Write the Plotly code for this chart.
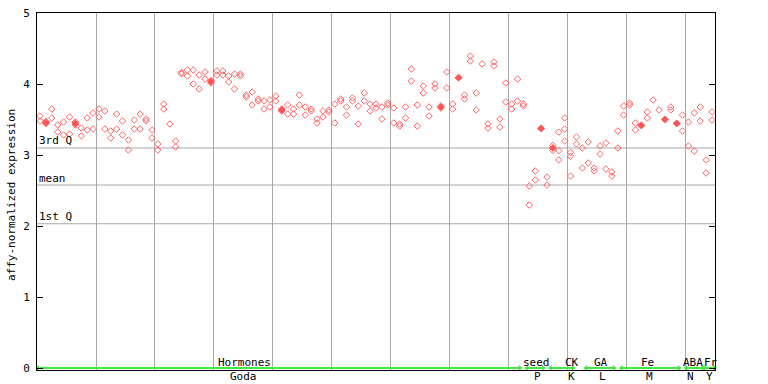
import plotly.graph_objects as go

# replicate values per sample (sample index = position along x)
rep_a = [3.549, 3.473, 3.648, 3.423, 3.465, 3.535, 3.465, 3.380, 3.521, 3.592,
         3.648, 3.620, 3.338, 3.577, 3.479, 3.211, 3.493, 3.577, 3.507, 3.352,
         3.155, 3.718, 3.437, 3.197, 4.163, 4.197, 4.197, 4.127, 4.169, 4.051,
         4.183, 4.183, 4.113, 4.141, 4.141, 3.845, 3.887, 3.789, 3.761, 3.775,
         3.831, 3.648, 3.704, 3.648, 3.845, 3.676, 3.648, 3.507, 3.620, 3.634,
         3.718, 3.789, 3.676, 3.803, 3.690, 3.873, 3.718, 3.718, 3.676, 3.732,
         3.662, 3.437, 3.676, 4.211, 3.704, 3.972, 3.676, 4.000, 3.690, 4.169,
         3.718, 4.089, 3.845, 4.394, 3.873, 4.282, 3.437, 4.310, 3.507, 4.014,
         3.718, 4.070, 3.718, 2.563, 2.775, 3.375, 2.690, 3.135, 3.321, 3.521,
         3.037, 3.254, 3.099, 3.183, 2.817, 3.127, 3.169, 2.761, 3.338, 3.690,
         3.732, 3.451, 3.417, 3.606, 3.775, 3.634, 3.501, 3.676, 3.445, 3.563,
         3.465, 3.592, 3.676, 2.930, 3.606]

rep_b = [3.479, 3.441, 3.521, 3.324, 3.282, 3.296, 3.423, 3.268, 3.352, 3.366,
         3.535, 3.366, 3.239, 3.366, 3.282, 3.070, 3.366, 3.366, 3.479, 3.239,
         3.070, 3.648, None, 3.113, 4.145, 4.113, 4.000, 3.930, 4.070, 4.014,
         4.127, 4.127, 4.028, 3.930, 4.113, 3.817, 3.704, 3.761, 3.648, 3.676,
         3.761, 3.620, 3.577, 3.577, 3.704, 3.563, 3.620, 3.451, 3.535, 3.606,
         3.451, 3.761, 3.563, 3.761, 3.437, 3.761, 3.620, 3.662, 3.507, 3.704,
         3.451, 3.408, 3.521, 4.042, 3.408, 3.873, 3.549, 3.944, 3.662, 3.944,
         3.648, None, 3.789, 4.324, 3.634, None, 3.380, 4.254, 3.394, 3.746,
         3.648, 3.761, 3.690, 2.296, 2.648, None, 2.577, 3.065, 3.061, 3.366,
         2.980, 3.155, 2.817, 2.887, 2.775, 3.014, 2.803, 2.704, 3.099, 3.563,
         3.704, 3.352, None, 3.521, None, None, None, 3.634, None, 3.338,
         3.127, 3.056, 3.479, 2.746, 3.493]

extra_idx = [88, 89, 90]
extra_val = [2.930, 3.197, 2.704]

# samples whose overlapping replicates render as a solid marker
solid_idx = [1, 6, 29, 41, 68, 71, 85, 87, 102, 106, 108]

# quartile reference lines
quart_names = ["3rd Q", "mean", "1st Q"]
quart_vals = [3.099, 2.577, 2.032]

# experiment groups (first and last sample index) and labels
group_names = ["Hormones", "seed", "CK", "GA", "Fe", "ABA", "Fr"]
group_subs = ["Goda", "P", "K", "L", "M", "N", "Y"]
group_first = [0, 83, 87, 93, 99, 110, 113]
group_last = [81, 85, 90, 97, 108, 112, 114]
name_pos = [34.7, 84.2, 90.2, 95.1, 103.1, 110.7, 113.9]
sub_pos = [34.6, 84.4, 90.2, 95.4, 103.4, 110.4, 113.6]

y_ticks = [0, 1, 2, 3, 4, 5]

FONT = "DejaVu Sans Mono"
RED = "#ff5555"
GREEN = "#40e840"
GRID = "#a8a8a8"

n = len(rep_a)
idx = list(range(n))

fig = go.Figure()

for vals in (rep_a, rep_b):
    fig.add_trace(go.Scatter(
        x=idx, y=vals, mode="markers",
        marker=dict(symbol="diamond-open", size=5, color=RED, line=dict(width=0.9, color=RED)),
        hoverinfo="skip", showlegend=False))
fig.add_trace(go.Scatter(
    x=extra_idx, y=extra_val, mode="markers",
    marker=dict(symbol="diamond-open", size=5, color=RED, line=dict(width=0.9, color=RED)),
    showlegend=False))

solid_y = []
for i in solid_idx:
    v = [w for w in (rep_a[i], rep_b[i]) if w is not None]
    solid_y.append(sum(v) / len(v))
fig.add_trace(go.Scatter(
    x=solid_idx, y=solid_y, mode="markers",
    marker=dict(symbol="diamond", size=6, color=RED, line=dict(width=0)),
    showlegend=False))

# green group segments with arrowheads
for f, l in zip(group_first, group_last):
    x0, x1 = f - 0.4, l + 0.4
    fig.add_trace(go.Scatter(
        x=[x0, x1], y=[0, 0], mode="lines+markers",
        line=dict(color=GREEN, width=2),
        marker=dict(symbol=["triangle-left", "triangle-right"], size=5, color=GREEN),
        cliponaxis=False, showlegend=False, hoverinfo="skip"))

shapes = []
for q in quart_vals:
    shapes.append(dict(type="line", xref="paper", x0=0, x1=1, yref="y", y0=q, y1=q,
                       line=dict(color=GRID, width=1), layer="below"))

annotations = []
for name, q in zip(quart_names, quart_vals):
    annotations.append(dict(text=name, xref="paper", x=0, xanchor="left", xshift=0,
                            yref="y", y=q, yanchor="middle", yshift=7, showarrow=False,
                            font=dict(family=FONT, size=11, color="black")))
for name, p in zip(group_names, name_pos):
    annotations.append(dict(text=name, xref="x", x=p, xanchor="center",
                            yref="paper", y=(370 - 362.5) / 357, yanchor="middle",
                            showarrow=False, font=dict(family=FONT, size=11, color="black")))
for name, p in zip(group_subs, sub_pos):
    annotations.append(dict(text=name, xref="x", x=p, xanchor="center",
                            yref="paper", y=(370 - 376.5) / 357, yanchor="middle",
                            showarrow=False, font=dict(family=FONT, size=11, color="black")))
annotations.append(dict(text="affy-normalized expression", textangle=-90,
                        xref="paper", x=(11 - 37) / 678, xanchor="center",
                        yref="paper", y=(370 - 195) / 357, yanchor="middle",
                        showarrow=False, font=dict(family=FONT, size=11, color="black")))

fig.update_layout(
    width=768, height=384,
    margin=dict(l=37, r=53, t=13, b=14),
    paper_bgcolor="white", plot_bgcolor="white",
    showlegend=False,
    shapes=shapes, annotations=annotations,
    xaxis=dict(range=[-0.509, 114.5], tickvals=[9.5 + 10 * k for k in range(11)],
               showticklabels=False, ticks="", showgrid=True, gridcolor=GRID, gridwidth=1,
               zeroline=False, showline=True, linecolor="black", linewidth=1, mirror=True,
               fixedrange=True, automargin=False),
    yaxis=dict(range=[-0.028, 5], tickvals=y_ticks, ticks="inside", ticklen=6,
               tickcolor="black", showgrid=False, zeroline=False, showline=True,
               linecolor="black", linewidth=1, mirror="ticks", ticklabelstandoff=4,
               tickfont=dict(family=FONT, size=11, color="black"), fixedrange=True,
               automargin=False),
)

fig.write_html("out.html", config={"displayModeBar": False},
               post_script="document.body.style.margin='0';document.body.style.padding='0';")
